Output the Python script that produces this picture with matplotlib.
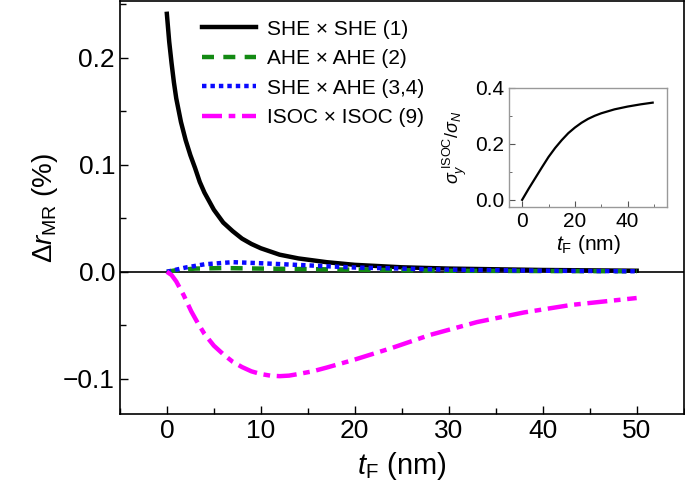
import matplotlib
matplotlib.use("Agg")
import matplotlib.pyplot as plt
from matplotlib.ticker import MultipleLocator

plt.rcParams['font.family'] = ['Liberation Sans', 'DejaVu Sans']
plt.rcParams['mathtext.fontset'] = 'custom'
plt.rcParams['mathtext.it'] = 'Liberation Sans:italic'
plt.rcParams['mathtext.rm'] = 'Liberation Sans'

# main panel data (t_F in nm, delta r_MR in %)
t_she = [0, 0.25, 0.5, 0.75, 1, 1.5, 2, 2.5, 3, 3.5, 4, 5, 6, 7, 8, 9, 10,
         12, 14, 17, 20, 25, 30, 40, 50]
she_she = [0.241, 0.215, 0.195, 0.177, 0.162, 0.140, 0.123, 0.109, 0.097, 0.084,
           0.074, 0.058, 0.046, 0.038, 0.031, 0.026, 0.022, 0.016, 0.0125, 0.009,
           0.0065, 0.0042, 0.003, 0.0017, 0.001]

t_ahe = [0, 1, 3, 6, 10, 15, 20, 30, 40, 50]
ahe_ahe = [0, 0.0015, 0.003, 0.0035, 0.003, 0.0025, 0.002, 0.001, 0.0007, 0.0005]

t_mix = [0, 1, 2, 4, 7, 10, 15, 20, 30, 40, 50]
she_ahe = [0, 0.002, 0.004, 0.007, 0.009, 0.008, 0.006, 0.004, 0.002, 0.001, 0.0005]

t_isoc = [0, 0.5, 1, 1.8, 2.6, 3.3, 4, 5, 6, 7, 8, 9, 10, 11, 12, 13, 14, 15.5,
          17, 20, 24, 28, 33, 38, 43, 50]
isoc_isoc = [0, -0.003, -0.009, -0.022, -0.037, -0.048, -0.058, -0.069, -0.077,
             -0.084, -0.089, -0.093, -0.0955, -0.097, -0.0975, -0.097, -0.0955,
             -0.093, -0.0895, -0.082, -0.071, -0.059, -0.047, -0.038, -0.031, -0.0245]

# inset data
t_inset = [0, 2.5, 5, 7.5, 10, 12.5, 15, 17.5, 20, 22.5, 25, 27.5, 30, 35, 40, 45, 49.5]
sigma_ratio = [0, 0.040, 0.078, 0.116, 0.153, 0.185, 0.213, 0.238, 0.258, 0.275,
               0.289, 0.300, 0.309, 0.323, 0.333, 0.341, 0.347]

fig = plt.figure(figsize=(6.85, 4.96), dpi=100)
ax = fig.add_axes([0.175, 0.165, 0.823, 0.833])

ax.axhline(0, color='black', lw=1.2, zorder=1)
ax.plot(t_she, she_she, color='black', lw=3.2, label='SHE \u00d7 SHE (1)')
ax.plot(t_ahe, ahe_ahe, color='#138a13', lw=3.2, ls=(0, (2.7, 2.1)), label='AHE \u00d7 AHE (2)')
ax.plot(t_mix, she_ahe, color='#0a0aff', lw=3.2, ls=(0, (1, 0.9)), label='SHE \u00d7 AHE (3,4)')
ax.plot(t_isoc, isoc_isoc, color='#ff00ff', lw=3.2, ls=(0, (4.5, 1.5, 1.5, 1.5)),
        label='ISOC \u00d7 ISOC (9)')

ax.set_xlim(-5, 55)
ax.set_ylim(-0.133, 0.253)
ax.xaxis.set_major_locator(MultipleLocator(10))
ax.xaxis.set_minor_locator(MultipleLocator(5))
ax.yaxis.set_minor_locator(MultipleLocator(0.05))
ax.set_yticks([-0.1, 0.0, 0.1, 0.2])
ax.set_yticklabels(['\u22120.1', '0.0', '0.1', '0.2'])
ax.tick_params(which='both', direction='in', top=False, right=False, labelsize=19)
ax.tick_params(which='major', length=6, width=1)
ax.tick_params(which='minor', length=4, width=1)
for s in ax.spines.values():
    s.set_linewidth(1.2)

ax.set_xlabel(r'$t_{\mathrm{F}}$ (nm)', fontsize=21, labelpad=5)
ax.set_ylabel(r'$\Delta r_{\mathrm{MR}}$ (%)', fontsize=20, labelpad=2)

ax.legend(loc='upper left', bbox_to_anchor=(0.12, 0.99), frameon=False, fontsize=15,
          handlelength=2.6, handletextpad=0.53, labelspacing=0.5, borderaxespad=0.3)

# inset
ins = fig.add_axes([0.743, 0.583, 0.231, 0.24])
ins.plot(t_inset, sigma_ratio, color='black', lw=1.6)
ins.set_xlim(-5, 55)
ins.set_ylim(-0.025, 0.4)
ins.xaxis.set_major_locator(MultipleLocator(20))
ins.xaxis.set_minor_locator(MultipleLocator(10))
ins.yaxis.set_major_locator(MultipleLocator(0.2))
ins.yaxis.set_minor_locator(MultipleLocator(0.1))
ins.tick_params(which='both', direction='in', top=False, right=False, labelsize=15,
                color='#555555')
ins.tick_params(which='major', length=4)
ins.tick_params(which='minor', length=2.5)
for s in ins.spines.values():
    s.set_color('#999999')
    s.set_linewidth(1)
ins.set_xlabel(r'$t_{\mathrm{F}}$ (nm)', fontsize=15, labelpad=2)
ins.set_ylabel(r'$\sigma_y^{\mathrm{\ ISOC}}/\sigma_N$', fontsize=13, labelpad=4)

fig.savefig('out.png', dpi=100)
